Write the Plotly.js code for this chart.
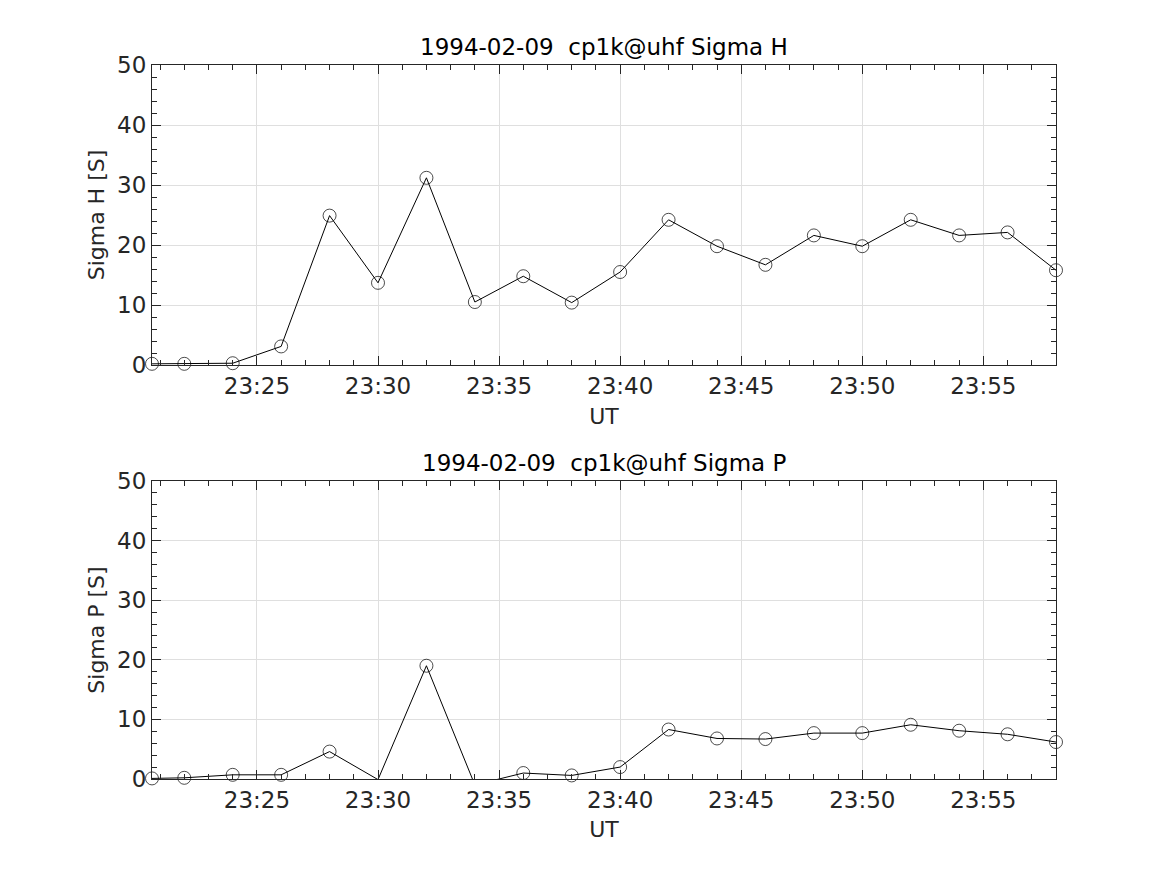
<!DOCTYPE html>
<html>
<head>
<meta charset="utf-8">
<script src="https://cdn.plot.ly/plotly-3.0.1.min.js"></script>
<style>html,body{margin:0;padding:0;background:#fff;}#chart{width:1167px;height:875px;}</style>
</head>
<body>
<div id="chart"></div>
<script>
// Times (UT, 1994-02-09)
const times = [
  "1994-02-09 23:20:40", "1994-02-09 23:22:00", "1994-02-09 23:24:00", "1994-02-09 23:26:00",
  "1994-02-09 23:28:00", "1994-02-09 23:30:00", "1994-02-09 23:32:00", "1994-02-09 23:34:00",
  "1994-02-09 23:36:00", "1994-02-09 23:38:00", "1994-02-09 23:40:00", "1994-02-09 23:42:00",
  "1994-02-09 23:44:00", "1994-02-09 23:46:00", "1994-02-09 23:48:00", "1994-02-09 23:50:00",
  "1994-02-09 23:52:00", "1994-02-09 23:54:00", "1994-02-09 23:56:00", "1994-02-09 23:58:00"
];
// Sigma H [S]
const sigmaH = [0.2, 0.2, 0.3, 3.1, 24.9, 13.7, 31.2, 10.5, 14.8, 10.4, 15.5, 24.2,
                19.8, 16.7, 21.6, 19.8, 24.2, 21.6, 22.1, 15.8];
// Sigma P [S]
const sigmaP = [0.1, 0.2, 0.7, 0.7, 4.6, -0.1, 19.0, -1.0, 1.0, 0.6, 2.0, 8.3,
                6.8, 6.7, 7.7, 7.7, 9.1, 8.1, 7.5, 6.2];

const titleTop = "1994-02-09  cp1k@uhf Sigma H";
const titleBot = "1994-02-09  cp1k@uhf Sigma P";
const xLabel = "UT";
const yLabelTop = "Sigma H [S]";
const yLabelBot = "Sigma P [S]";
const xRange = ["1994-02-09 23:20:40", "1994-02-09 23:58:00"];
const yRange = [0, 50];

const txt = "#262626";
const fontFam = "DejaVu Sans, Arial, sans-serif";

function trace(y, xa, ya) {
  return {
    x: times, y: y, xaxis: xa, yaxis: ya,
    type: "scatter", mode: "lines+markers",
    line: {color: "#000000", width: 1},
    marker: {symbol: "circle-open", size: y.map(v => v < 0 ? 0 : 13),
             color: "#000000", line: {color: "#000000", width: 1}},
    cliponaxis: false, hoverinfo: "x+y"
  };
}

function xax(anchor) {
  return {
    type: "date", range: xRange, anchor: anchor,
    tick0: "1994-02-09 23:00:00", dtick: 300000, tickformat: "%H:%M",
    ticks: "inside", ticklen: 9, tickwidth: 1, tickcolor: txt,
    minor: {dtick: 60000, ticks: "inside", ticklen: 5, tickwidth: 1, tickcolor: txt, showgrid: false},
    showline: true, linecolor: txt, linewidth: 1, mirror: "ticks",
    showgrid: true, gridcolor: "#dfdfdf", gridwidth: 1,
    zeroline: false,
    tickfont: {family: fontFam, size: 23, color: txt},
    title: {text: xLabel, font: {family: fontFam, size: 22, color: txt}, standoff: 10}
  };
}
function yax(anchor, domain, label) {
  return {
    range: yRange, domain: domain, anchor: anchor,
    tick0: 0, dtick: 10,
    ticks: "inside", ticklen: 9, tickwidth: 1, tickcolor: txt,
    minor: {dtick: 2, ticks: "inside", ticklen: 5, tickwidth: 1, tickcolor: txt, showgrid: false},
    showline: true, linecolor: txt, linewidth: 1, mirror: "ticks",
    showgrid: true, gridcolor: "#dfdfdf", gridwidth: 1,
    zeroline: false,
    tickfont: {family: fontFam, size: 23, color: txt},
    title: {text: label, font: {family: fontFam, size: 22, color: txt}, standoff: 6}
  };
}

const data = [trace(sigmaH, "x", "y"), trace(sigmaP, "x2", "y2")];

const layout = {
  width: 1167, height: 875,
  margin: {l: 152, r: 111, t: 65, b: 96},
  paper_bgcolor: "#ffffff", plot_bgcolor: "#ffffff",
  showlegend: false,
  xaxis: xax("y"),
  yaxis: yax("x", [0.5798, 1], yLabelTop),
  xaxis2: xax("y2"),
  yaxis2: yax("x2", [0, 0.4174], yLabelBot),
  annotations: [
    {text: titleTop, xref: "paper", yref: "paper", x: 0.5, y: 1.0, yshift: 3,
     xanchor: "center", yanchor: "bottom", showarrow: false,
     font: {family: fontFam, size: 23, color: "#000000"}},
    {text: titleBot, xref: "paper", yref: "paper", x: 0.5, y: 0.4174, yshift: 3,
     xanchor: "center", yanchor: "bottom", showarrow: false,
     font: {family: fontFam, size: 23, color: "#000000"}}
  ]
};

Plotly.newPlot("chart", data, layout, {displayModeBar: false, staticPlot: true});
</script>
</body>
</html>
